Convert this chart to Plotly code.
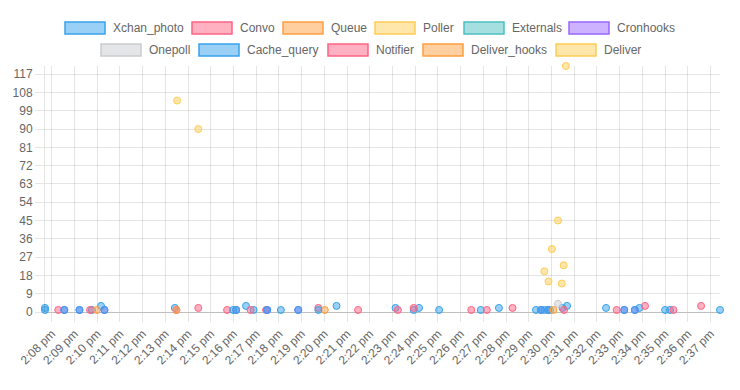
import plotly.graph_objects as go

DAY = "2024-01-01 "

# ---- data (time of day, value) per series ----
xchan_photo_t = ["14:07:42", "14:09:46", "14:10:10", "14:13:25", "14:16:33", "14:16:53", "14:18:05",
                 "14:20:32", "14:23:08", "14:24:10", "14:25:03", "14:27:41", "14:30:29", "14:30:41",
                 "14:32:24", "14:33:52", "14:35:00", "14:37:25"]
xchan_photo_v = [2, 1, 3, 2, 3, 1, 1, 3, 2, 2, 1, 2, 2, 3, 2, 2, 1, 1]

convo_t = ["14:08:17", "14:09:41", "14:13:29", "14:14:27", "14:15:43", "14:16:45", "14:17:26",
           "14:19:44", "14:21:29", "14:23:14", "14:26:28"]
convo_v = [1, 1, 1, 2, 1, 1, 1, 2, 1, 1, 1]

queue_t = ["14:09:59", "14:13:29", "14:20:01"]
queue_v = [1, 1, 1]

poller_t = ["14:13:31", "14:14:27"]
poller_v = [104, 90]

externals_t = ["14:29:56"]
externals_v = [1]

cronhooks_t = ["14:08:33", "14:09:13", "14:10:19", "14:16:07", "14:17:29", "14:18:51",
               "14:29:32", "14:29:51", "14:33:12", "14:33:40"]
cronhooks_v = [1, 1, 1, 1, 1, 1, 1, 1, 1, 1]

onepoll_t = ["14:30:17"]
onepoll_v = [4]

cache_query_t = ["14:07:42", "14:08:33", "14:09:13", "14:10:19", "14:15:59", "14:16:07", "14:17:29",
                 "14:18:51", "14:19:44", "14:23:56", "14:26:53", "14:29:19", "14:29:32", "14:29:41",
                 "14:29:51", "14:33:12", "14:33:40", "14:35:13"]
cache_query_v = [1] * 18

notifier_t = ["14:23:56", "14:27:09", "14:28:17", "14:30:33", "14:32:52", "14:34:07", "14:35:22", "14:36:35"]
notifier_v = [2, 1, 2, 1, 1, 3, 1, 3]

deliver_hooks_t = ["14:30:05"]
deliver_hooks_v = [1]

deliver_t = ["14:29:41", "14:29:52", "14:30:01", "14:30:17", "14:30:27", "14:30:32", "14:30:38"]
deliver_v = [20, 15, 31, 45, 14, 23, 121]

tick_times = ["14:08", "14:09", "14:10", "14:11", "14:12", "14:13", "14:14", "14:15", "14:16", "14:17",
              "14:18", "14:19", "14:20", "14:21", "14:22", "14:23", "14:24", "14:25", "14:26", "14:27",
              "14:28", "14:29", "14:30", "14:31", "14:32", "14:33", "14:34", "14:35", "14:36", "14:37"]
tick_labels = ["2:08 pm", "2:09 pm", "2:10 pm", "2:11 pm", "2:12 pm", "2:13 pm", "2:14 pm", "2:15 pm",
               "2:16 pm", "2:17 pm", "2:18 pm", "2:19 pm", "2:20 pm", "2:21 pm", "2:22 pm", "2:23 pm",
               "2:24 pm", "2:25 pm", "2:26 pm", "2:27 pm", "2:28 pm", "2:29 pm", "2:30 pm", "2:31 pm",
               "2:32 pm", "2:33 pm", "2:34 pm", "2:35 pm", "2:36 pm", "2:37 pm"]

y_ticks = [0, 9, 18, 27, 36, 45, 54, 63, 72, 81, 90, 99, 108, 117]

BLUE = (54, 162, 235)
RED = (255, 99, 132)
ORANGE = (255, 159, 64)
YELLOW = (255, 205, 86)
TEAL = (75, 192, 192)
PURPLE = (153, 102, 255)
GREY = (201, 203, 207)

series = [
    ("Xchan_photo", xchan_photo_t, xchan_photo_v, BLUE, 0),
    ("Convo", convo_t, convo_v, RED, 0),
    ("Queue", queue_t, queue_v, ORANGE, 0),
    ("Poller", poller_t, poller_v, YELLOW, 0),
    ("Externals", externals_t, externals_v, TEAL, 0),
    ("Cronhooks", cronhooks_t, cronhooks_v, PURPLE, 0),
    ("Onepoll", onepoll_t, onepoll_v, GREY, 1),
    ("Cache_query", cache_query_t, cache_query_v, BLUE, 1),
    ("Notifier", notifier_t, notifier_v, RED, 1),
    ("Deliver_hooks", deliver_hooks_t, deliver_hooks_v, ORANGE, 1),
    ("Deliver", deliver_t, deliver_v, YELLOW, 1),
]


def rgba(c, a):
    return "rgba(%d,%d,%d,%s)" % (c[0], c[1], c[2], a)


FONT = "Liberation Sans, Arial, Helvetica, sans-serif"
TXT = "#666666"
GRID = "rgba(0,0,0,0.1)"

fig = go.Figure()
all_t = []
for name, ts, vs, col, _row in series:
    xs = [DAY + t for t in ts]
    all_t += xs
    fig.add_trace(go.Scatter(
        x=xs, y=vs, mode="markers", name=name, showlegend=False, cliponaxis=False,
        marker=dict(size=7, color=rgba(col, 0.5), line=dict(width=1, color=rgba(col, 1))),
    ))

# ---- plot geometry (pixels); page body has an 8px margin ----
OFF = 8
W, H = 740 - OFF, 390 - OFF
L, R, T, B = 45 - OFF, 20, 66 - OFF, 78
PW, PH = W - L - R, H - T - B


def xp(px):
    return (px - OFF - L) / PW


def yp(py):
    return (H - B - (py - OFF)) / PH


# ---- legend drawn as boxes + text (Chart.js style) ----
legend_box_left = [65, 192, 283, 375, 464, 569, 101, 199, 328, 423, 556]
legend_row_y = [28, 50]
shapes = []
annotations = []
for (name, ts, vs, col, row), bx in zip(series, legend_box_left):
    cy = legend_row_y[row]
    shapes.append(dict(type="rect", xref="paper", yref="paper",
                       x0=xp(bx), x1=xp(bx + 40), y0=yp(cy + 6), y1=yp(cy - 6),
                       fillcolor=rgba(col, 0.5), line=dict(color=rgba(col, 1), width=1.5)))
    annotations.append(dict(xref="paper", yref="paper", x=xp(bx + 46), y=yp(cy),
                            xanchor="left", yanchor="middle", showarrow=False, text=name,
                            font=dict(family=FONT, size=12, color=TXT)))

fig.update_layout(
    width=W, height=H,
    margin=dict(l=L, r=R, t=T, b=B, pad=0, autoexpand=False),
    paper_bgcolor="white", plot_bgcolor="white",
    font=dict(family=FONT, size=12, color=TXT),
    shapes=shapes, annotations=annotations,
    showlegend=False,
)
fig.update_xaxes(
    type="date", range=[min(all_t), max(all_t)], automargin=False,
    tickvals=[DAY + t for t in tick_times], ticktext=tick_labels, tickangle=-45,
    showgrid=True, gridcolor=GRID, gridwidth=1,
    ticks="outside", ticklen=9, tickcolor=GRID, tickwidth=1,
    showline=False, zeroline=False,
    tickfont=dict(family=FONT, size=12, color=TXT),
)
fig.update_yaxes(
    range=[0, 121], tickvals=y_ticks, automargin=False,
    showgrid=True, gridcolor=GRID, gridwidth=1,
    ticks="outside", ticklen=9, tickcolor=GRID, tickwidth=1,
    showline=True, linecolor=GRID, linewidth=1,
    zeroline=True, zerolinecolor="rgba(0,0,0,0.25)", zerolinewidth=1,
    tickfont=dict(family=FONT, size=12, color=TXT),
)

fig.write_html("out.html")
